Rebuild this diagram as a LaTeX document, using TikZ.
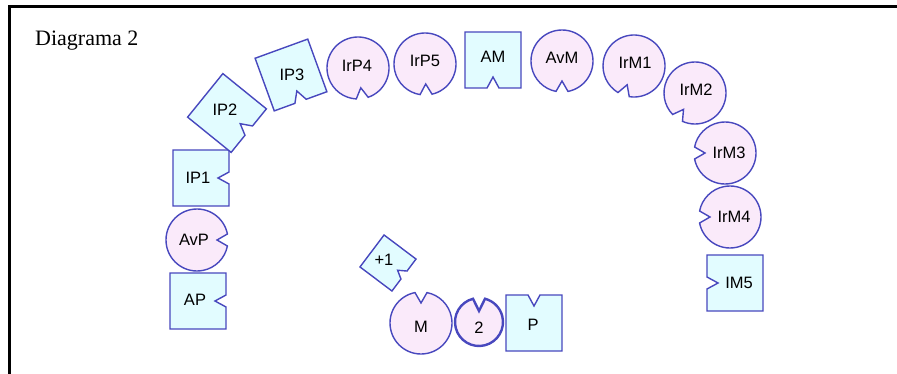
\documentclass[tikz,border=0pt]{standalone}
\usepackage{fontspec}
\setmainfont{Liberation Serif}
\newfontfamily\lblfont{Liberation Sans}
\definecolor{edgec}{RGB}{72,72,190}
\definecolor{sqfill}{RGB}{226,252,255}
\definecolor{cfill}{RGB}{250,234,250}
\tikzset{
  piece/.style={draw=edgec, line width=1.4pt, line join=miter},
  lbl/.style={font=\lblfont\fontsize{16.5}{18}\selectfont, inner sep=0pt, text=black},
  pics/sqp/.style args={#1/#2/#3}{code={
    \pgfmathsetmacro\pch{#1/2}
    \draw[piece, fill=sqfill] (\pch,-\pch) -- (\pch,-#2) -- ({\pch-#3},0) -- (\pch,#2) -- (\pch,\pch) -- (-\pch,\pch) -- (-\pch,-\pch) -- cycle;
  }},
  pics/cp/.style args={#1/#2/#3/#4}{code={
    \pgfmathsetmacro\pcal{asin(#2/#1)}
    \draw[piece, fill=cfill, line width=#4] (\pcal:#1) arc[start angle=\pcal, end angle={360-\pcal}, radius=#1] -- ({#1-#3},0) -- cycle;
  }},
}
\begin{document}
\begin{tikzpicture}[x=1pt, y=1pt]
\useasboundingbox (0,0) rectangle (897,-374);
\fill[white] (0,0) rectangle (897,-374);
% frame
\draw[line width=2.6pt] (897,-6.6) -- (9.4,-6.6) -- (9.4,-374);
\node[anchor=base west, font=\fontsize{22}{24}\selectfont, inner sep=0pt] (title) at (35,-46) {Diagrama 2};

% left column
\pic[rotate=0] at (198,-301) {sqp=56/6/11};
\node[lbl] (AP) at (195,-300) {AP};
\pic[rotate=0] at (197,-240) {cp=31/6/11/1.4pt};
\node[lbl] (AvP) at (194,-240) {AvP};
\pic[rotate=0] at (201,-178) {sqp=56/6/11};
\node[lbl] (IP1) at (198,-178) {IP1};
\pic[rotate=-39] at (227,-113) {sqp=56/6/11};
\node[lbl] (IP2) at (225,-110) {IP2};
\pic[rotate=-70] at (291,-75) {sqp=56/6/11};
\node[lbl] (IP3) at (292,-75) {IP3};

% top row
\pic[rotate=-82] at (358,-68) {cp=31/6/11/1.4pt};
\node[lbl] (IrP4) at (357,-66) {IrP4};
\pic[rotate=-88] at (425,-64) {cp=31/6/11/1.4pt};
\node[lbl] (IrP5) at (425,-61) {IrP5};
\pic[rotate=-90] at (493,-60) {sqp=56/6/11};
\node[lbl] (AM) at (493,-57) {AM};
\pic[rotate=-90] at (562,-61) {cp=31/6/11/1.4pt};
\node[lbl] (AvM) at (562,-58) {AvM};
\pic[rotate=-110] at (634,-66) {cp=31/6/11/1.4pt};
\node[lbl] (IrM1) at (635,-63) {IrM1};

% right column
\pic[rotate=-125] at (695,-93) {cp=31/6/11/1.4pt};
\node[lbl] (IrM2) at (696,-90) {IrM2};
\pic[rotate=180] at (725,-153) {cp=31/6/11/1.4pt};
\node[lbl] (IrM3) at (729,-153) {IrM3};
\pic[rotate=180] at (730,-217) {cp=31/6/11/1.4pt};
\node[lbl] (IrM4) at (734,-217) {IrM4};
\pic[rotate=180] at (735,-283) {sqp=56/6/11};
\node[lbl] (IM5) at (739,-283) {IM5};

% bottom group
\pic[rotate=-37] at (388,-263) {sqp=40/5/8};
\node[lbl] (plus1) at (384,-260) {+1};
\pic[rotate=90] at (421,-323) {cp=31/6/11/1.4pt};
\node[lbl] (M) at (421,-327) {M};
\pic[rotate=90] at (479,-322) {cp=24/6/13/2.4pt};
\node[lbl] (two) at (479,-328) {2};
\pic[rotate=90] at (534,-323) {sqp=56/6/11};
\node[lbl] (P) at (533,-325) {P};
\end{tikzpicture}
\end{document}
